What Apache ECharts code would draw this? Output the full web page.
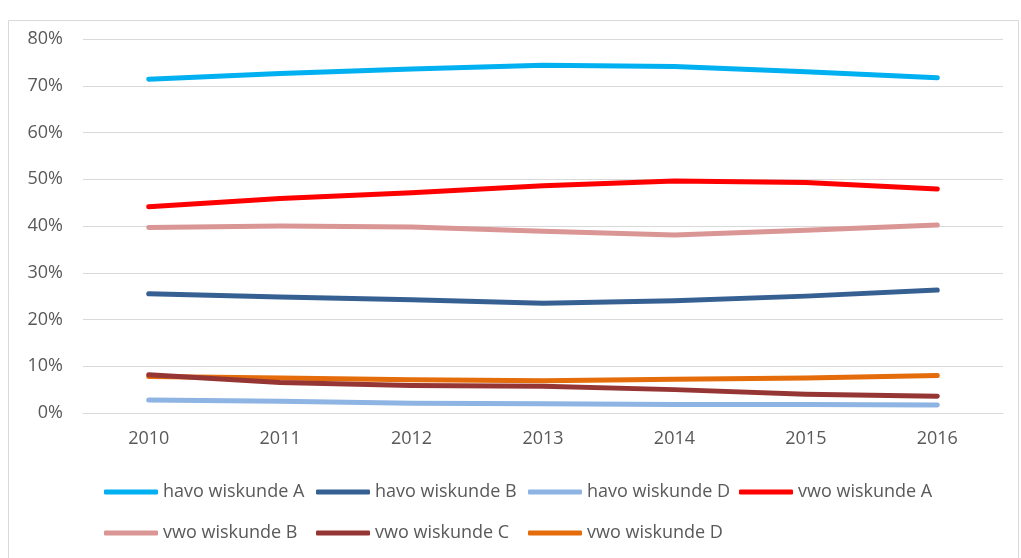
<!DOCTYPE html>
<html>
<head>
<meta charset="utf-8">
<title>wiskunde</title>
<script src="https://cdn.jsdelivr.net/npm/echarts@6/dist/echarts.min.js"></script>
<style>
    html, body { margin: 0; padding: 0; background: #fff; }
    #chart { width: 1021px; height: 558px; }
</style>
</head>
<body>
<div id="chart"></div>
<script>
var years = ['2010', '2011', '2012', '2013', '2014', '2015', '2016'];
var yTicks = [0, 10, 20, 30, 40, 50, 60, 70, 80];

var havoA = [71.4, 72.6, 73.6, 74.4, 74.1, 73.0, 71.7];
var havoB = [25.5, 24.8, 24.2, 23.5, 24.0, 25.0, 26.3];
var havoD = [2.8, 2.5, 2.1, 2.0, 1.8, 1.8, 1.7];
var vwoA = [44.1, 45.9, 47.1, 48.6, 49.6, 49.3, 47.9];
var vwoB = [39.7, 40.0, 39.8, 38.9, 38.1, 39.1, 40.2];
var vwoC = [8.2, 6.5, 5.9, 5.7, 5.0, 4.0, 3.6];
var vwoD = [7.8, 7.5, 7.1, 6.9, 7.2, 7.5, 8.0];

var names = ['havo wiskunde A', 'havo wiskunde B', 'havo wiskunde D', 'vwo wiskunde A',
             'vwo wiskunde B', 'vwo wiskunde C', 'vwo wiskunde D'];
var colors = ['#00B0F0', '#376092', '#8DB4E2', '#FF0000', '#DA9694', '#963634', '#E46C0A'];
var values = [havoA, havoB, havoD, vwoA, vwoB, vwoC, vwoD];

(function() {
    var chart = echarts.init(document.getElementById('chart'));
    var font = '"Open Sans", "Noto Sans", sans-serif';
    var legendCols = [104, 316, 528, 739];
    var legendRows = [483, 524];

    // een lijn per vak
    var series = [];
    var legends = [];
    for (var i = 0; i < names.length; i++) {
        series.push({
            name: names[i],
            type: 'line',
            data: values[i],
            showSymbol: false,
            symbol: 'none',
            z: 10 - i,
            lineStyle: { width: 5, color: colors[i], cap: 'round', join: 'round' },
            itemStyle: { color: colors[i] }
        });
        // legenda in een raster van 4 kolommen
        legends.push({
            left: legendCols[i % 4],
            top: legendRows[Math.floor(i / 4)],
            padding: 0,
            itemWidth: 54,
            itemHeight: 5,
            icon: 'roundRect',
            data: [names[i]],
            textStyle: { color: '#595959', fontSize: 18, fontFamily: font }
        });
    }

    var option = {
        animation: false,
        color: colors,
        graphic: [{
            type: 'rect',
            shape: { x: 8.5, y: 20.5, width: 1010, height: 560 },
            style: { fill: 'none', stroke: '#D9D9D9', lineWidth: 1 },
            silent: true
        }],
        legend: legends,
        grid: { left: 83, right: 18, top: 39, bottom: 145 },
        xAxis: {
            type: 'category',
            data: years,
            boundaryGap: true,
            axisLine: { lineStyle: { color: '#D9D9D9', width: 1 } },
            axisTick: { show: false },
            axisLabel: { color: '#595959', fontSize: 18, fontFamily: font, margin: 17 }
        },
        yAxis: {
            type: 'value',
            min: yTicks[0],
            max: yTicks[yTicks.length - 1],
            interval: 10,
            axisLine: { show: false },
            axisTick: { show: false },
            splitLine: { lineStyle: { color: '#D9D9D9', width: 1 } },
            axisLabel: {
                color: '#595959', fontSize: 18, fontFamily: font, margin: 20,
                formatter: function(v) { return v + '%'; }
            }
        },
        series: series
    };
    chart.setOption(option);
})();
</script>
</body>
</html>
